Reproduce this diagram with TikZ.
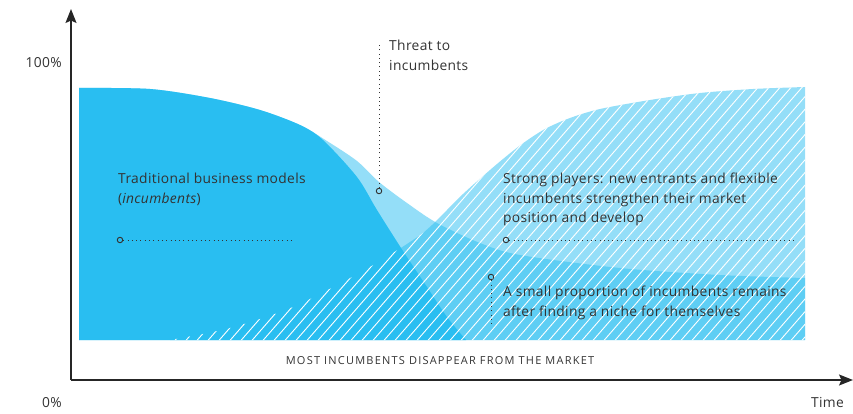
\documentclass[tikz,border=0pt]{standalone}
\usepackage{fontspec}
\setmainfont{Open Sans}
\usepackage{tikz}
\usetikzlibrary{arrows.meta,positioning}
\definecolor{sky}{HTML}{29BEF1}
\definecolor{ink}{HTML}{333333}

\begin{document}
\begin{tikzpicture}[
	x=1pt, y=-1pt, >={Stealth[length=14pt,width=11pt,inset=2.5pt]},
	axis/.style={draw=black!85, line width=1.3pt},
	txt/.style={text=ink, font=\fontsize{13.8}{19.6}\selectfont\addfontfeature{LetterSpace=2.5}, inner sep=0pt, align=left, anchor=north west},
	ring/.style={draw=ink, line width=0.9pt, circle, inner sep=0pt, minimum size=5.5pt},
	leader/.style={draw=ink, line width=0.9pt, dash pattern=on 0.9pt off 3.4pt},
	hatch/.style={fill=sky, fill opacity=.5, path picture={
		\foreach \x in {160,171,...,820}
			\draw[white, line width=0.9pt] (\x,345) -- ++(240,-276);}}
	]
	\useasboundingbox (0,0) rectangle (853,414);

	% surviving incumbents (light band)
	\fill[sky, fill opacity=.5] (79,340) -- plot[smooth] coordinates {(79,88) (150,89) (210,98) (260,110) (300,125) (327,141) (357,161) (379,182) (407,203) (437,223) (480,243) (520,255) (620,268) (720,275) (805,278)} -- (805,340) -- cycle;
	% traditional business models
	\fill[sky] (79,340) -- plot[smooth] coordinates {(79,88) (150,89) (210,98) (260,110) (300,125) (323,140) (357,177) (377,210) (403,251) (427,287) (447,317) (466,340)} -- cycle;
	% new entrants
	\path[hatch] plot[smooth] coordinates {(170,340) (230,328) (293,307) (363,271) (413,240) (432,225) (463,194) (497,164) (522,144) (545,129) (570,118) (600,109) (650,100) (700,93) (753,89) (805,87)} -- (805,340) -- cycle;

	% axes
	\coordinate (O) at (71,380);
	\coordinate (ytip) at (71,9);
	\coordinate (xtip) at (853,380);
	\draw[axis,->] (O) -- (ytip);
	\draw[axis,->] (O) -- (xtip);
	\node[txt, anchor=east] (full) at (62,63) {100\%};
	\node[txt, anchor=east] (zero) at (62,403) {0\%};
	\node[txt, anchor=east] (time) at (844,403) {Time};

	% labels
	\node[txt] (trad) at (118,173) {Traditional business models\\(\textit{incumbents})};
	\node[txt] (threat) at (389,40) {Threat to\\incumbents};
	\node[txt] (strong) at (503,173) {Strong players: new entrants and flexible\\incumbents strengthen their market\\position and develop};
	\node[txt] (niche) at (503,286) {A small proportion of incumbents remains\\after finding a niche for themselves};
	\node[text=ink, font=\fontsize{11}{13}\selectfont\addfontfeature{LetterSpace=11}] (gone) at (440,361) {MOST INCUMBENTS DISAPPEAR FROM THE MARKET};

	% markers
	\node[ring] (tradpin) at (120,240) {};
	\node[ring] (threatpin) at (379,191) {};
	\node[ring] (strongpin) at (506,240) {};
	\node[ring] (nichepin) at (491,277) {};
	\coordinate (tradend) at (293,240);
	\coordinate (threattop) at (379,42);
	\coordinate (strongend) at (795,240);
	\coordinate (nicheend) at (491,325);
	\draw[leader] (tradpin) -- (tradend);
	\draw[leader] (threatpin) -- (threattop);
	\draw[leader] (strongpin) -- (strongend);
	\draw[leader] (nichepin) -- (nicheend);
\end{tikzpicture}
\end{document}
